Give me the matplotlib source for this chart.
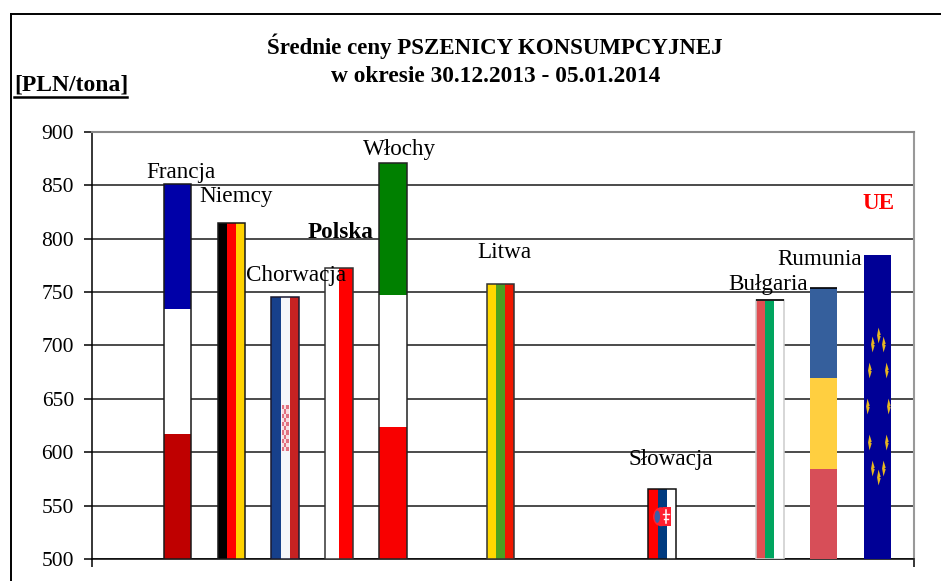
import matplotlib
matplotlib.use('Agg')
import matplotlib.pyplot as plt
import numpy as np
from matplotlib.lines import Line2D
from matplotlib.path import Path
from matplotlib.patches import Ellipse, Rectangle

plt.rcParams['font.family'] = ['Liberation Serif', 'DejaVu Serif']

countries = ['Francja', 'Niemcy', 'Chorwacja', 'Polska', 'Włochy', 'Litwa',
             'Słowacja', 'Bułgaria', 'Rumunia', 'UE']
slots = [0, 1, 2, 3, 4, 6, 9, 11, 12, 13]
prices = [851, 815, 745, 773, 871, 758, 566, 743, 754, 785]
yticks = [500, 550, 600, 650, 700, 750, 800, 850, 900]

# stripes of each flag, 'h' from top to bottom, 'v' from left to right
stripes = [['#0000a8', '#ffffff', '#bf0000'],
           ['#000000', '#ff0000', '#ffd200'],
           ['#17408b', '#f6f6fa', '#c62222'],
           ['#ffffff', '#ff0000'],
           ['#008000', '#ffffff', '#f80000'],
           ['#ffd800', '#4ca020', '#f01800'],
           ['#ff0000', '#003b80', '#ffffff'],
           ['#e04f52', '#00a55f', '#ffffff'],
           ['#355f9c', '#ffcf40', '#d74e58'],
           ['#000096']]
direction = ['h', 'v', 'v', 'v', 'h', 'v', 'v', 'v', 'h', 'h']
edges = ['#1a1a1a', '#1a1a1a', '#1a1a30', '#333333', '#222222', '#333333',
         '#111111', '#cccccc', None, None]
# label offset from the top of the bar, pixels
label_dx = [3, 5, 11, 1, 7, 4, 9, -2, -4, 1]
label_dy = [12, 26, 22, 35, 13, 31, 29, 15, 28, 51]

W, H = 941, 581
fig = plt.figure(figsize=(W / 100, H / 100), dpi=100)
ax = fig.add_axes([92 / W, (H - 559) / H, (914 - 92) / W, (559 - 132) / H])

step = 53.85
bar_w = 0.51
ax.set_xlim(-85.5 / step, 736.5 / step)
ax.set_ylim(500, 900)
ax.set_yticks(yticks)
ax.set_xticks(ax.get_xlim())
ax.set_xticklabels([])
ax.tick_params(axis='y', length=6, width=1.1, labelsize=15.5, pad=7)
ax.tick_params(axis='x', length=6, width=1.1)
ax.grid(axis='y', color='#1a1a1a', lw=1.1, zorder=1)
ax.set_axisbelow(True)
ax.spines['top'].set_color('#888888')
ax.spines['right'].set_color('#999999')
ax.spines['top'].set_linewidth(1.5)
ax.spines['right'].set_linewidth(1.5)
ax.spines['left'].set_linewidth(1.1)
ax.spines['bottom'].set_linewidth(1.1)

for i in range(len(countries)):
    x = slots[i]
    top = prices[i]
    n = len(stripes[i])
    for j in range(n):
        if direction[i] == 'h':
            h = (top - 500) / n
            ax.bar(x, h, bar_w, bottom=top - (j + 1) * h, color=stripes[i][j], lw=0, zorder=3)
        else:
            w = bar_w / n
            ax.bar(x - bar_w / 2 + (j + 0.5) * w, top - 500, w, bottom=500,
                   color=stripes[i][j], lw=0, zorder=3)
    if edges[i] is not None:
        ax.bar(x, top - 500, bar_w, bottom=500, fill=False, edgecolor=edges[i], lw=1.1, zorder=4)
    if countries[i] in ('Bułgaria', 'Rumunia'):
        ax.plot([x - bar_w / 2, x + bar_w / 2], [top, top], color='k', lw=1.2, zorder=4,
                solid_capstyle='butt')
    if countries[i] in ('Polska', 'UE'):
        weight = 'bold'
    else:
        weight = 'normal'
    ax.annotate(countries[i], (x, top), xytext=(label_dx[i], label_dy[i]),
                textcoords='offset pixels', ha='center', va='center', fontsize=16.7,
                color='red' if countries[i] == 'UE' else 'k',
                fontweight=weight, zorder=6)

# croatian coat of arms
cx = slots[2]
cy = 500 + 0.5 * (prices[2] - 500)
ch = 0.176 * (prices[2] - 500)
cw = 0.13
rows, cols = 11, 3
for r in range(rows):
    for c in range(cols):
        col = '#e07080' if (r + c) % 2 == 0 else '#f7dfe2'
        ax.add_patch(Rectangle((cx - cw / 2 + c * cw / cols, cy - ch / 2 + r * ch / rows),
                               cw / cols, ch / rows, color=col, lw=0, zorder=5))

# slovak coat of arms
sx = slots[6]
sy = 500 + 0.6 * (prices[6] - 500)
sh = 0.27 * (prices[6] - 500)
ax.add_patch(Ellipse((sx - 0.02, sy), 0.30, sh, color='#ff2030', lw=0, zorder=5))
ax.add_patch(Ellipse((sx - 0.09, sy), 0.10, sh * 0.65, color='#3a5fa8', lw=0, zorder=5))
ax.add_patch(Rectangle((sx + 0.01, sy - sh / 2), 0.15, sh, color='#ff2030', lw=0, zorder=5))
ax.plot([sx + 0.07, sx + 0.07], [sy - sh * 0.35, sy + sh * 0.35], color='w', lw=1.1, zorder=6)
ax.plot([sx + 0.02, sx + 0.12], [sy + sh * 0.12, sy + sh * 0.12], color='w', lw=1.0, zorder=6)
ax.plot([sx + 0.03, sx + 0.11], [sy - sh * 0.1, sy - sh * 0.1], color='w', lw=1.0, zorder=6)

# EU stars, squeezed with the flag
spike = Path([(0, 1), (0.28, 0.1), (0.1, 0), (0.28, -0.1), (0, -1), (-0.18, 0), (0, 1)], closed=True)
angles = np.arange(12) * np.pi / 6
ex = slots[9] + 0.19 * np.sin(angles)
ey = 500 + (prices[9] - 500) * (0.503 + 0.234 * np.cos(angles))
ax.scatter(ex, ey, marker=spike, s=130, color='#e8b820', lw=0, zorder=5)

fig.text(495 / W, 1 - 46 / H, 'Średnie ceny PSZENICY KONSUMPCYJNEJ', ha='center', va='center',
         fontsize=16.5, fontweight='bold')
fig.text(496 / W, 1 - 76 / H, 'w okresie 30.12.2013 - 05.01.2014', ha='center', va='center',
         fontsize=16.8, fontweight='bold')
fig.text(14 / W, 1 - 85 / H, '[PLN/tona]', ha='left', va='center', fontsize=17, fontweight='bold')
fig.add_artist(Line2D([14 / W, 127 / W], [1 - 97 / H, 1 - 97 / H], color='k', lw=1.8))

# frame of the sheet, cut by the page
fig.add_artist(Line2D([11 / W, 11 / W], [0, 1 - 14 / H], color='k', lw=1.4))
fig.add_artist(Line2D([11 / W, 1], [1 - 14 / H, 1 - 14 / H], color='k', lw=1.4))

fig.savefig('out.png', dpi=100)
